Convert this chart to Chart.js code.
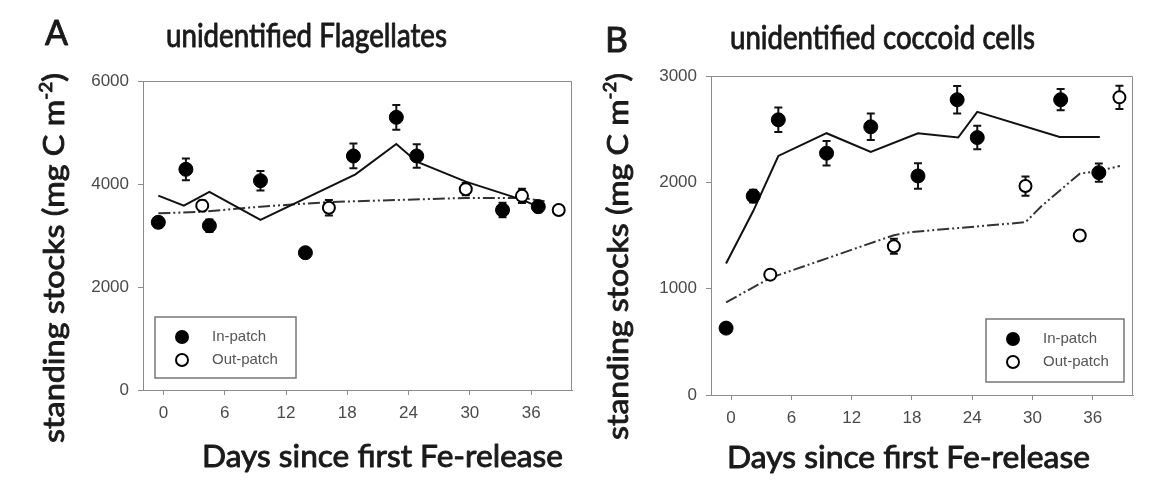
<!DOCTYPE html>
<html>
<head>
<meta charset="utf-8">
<title>Standing stocks</title>
<script src="https://cdn.jsdelivr.net/npm/chart.js@4.4.1/dist/chart.umd.min.js"></script>
<style>
  html, body { margin: 0; padding: 0; background: #fff; }
  #wrap { position: relative; width: 1151px; height: 486px; overflow: hidden; }
  canvas { position: absolute; top: 0; }
  #chartA { left: 0; }
  #chartB { left: 580px; }
</style>
</head>
<body>
<div id="wrap">
  <canvas id="chartA" width="580" height="486"></canvas>
  <canvas id="chartB" width="571" height="486"></canvas>
</div>
<script>
'use strict';

// x axis ticks shared by both panels
const dayTicks = [0, 6, 12, 18, 24, 30, 36];

// A - unidentified flagellates
const flagInDays = [-0.5, 2.2, 4.5, 9.5, 13.9, 18.6, 22.8, 24.8, 33.2, 36.7];
const flagInVals = [3256, 4285, 3190, 4064, 2666, 4544, 5295, 4544, 3495, 3560];
const flagInErr = [100, 210, 120, 190, 80, 240, 240, 230, 140, 110];
const flagOutDays = [3.8, 16.2, 29.6, 35.1, 38.7];
const flagOutVals = [3580, 3540, 3900, 3770, 3495];
const flagOutErr = [100, 150, 120, 140, 80];
const flagInFitDays = [-0.5, 2.0, 4.5, 9.5, 18.8, 22.8, 24.8, 29.6, 35.0, 36.7];
const flagInFitVals = [3773, 3579, 3845, 3301, 4188, 4777, 4434, 4045, 3702, 3560];
const flagOutFitDays = [-0.5, 3.8, 9.5, 16.2, 23.0, 29.6, 35.1, 37.5];
const flagOutFitVals = [3430, 3460, 3560, 3650, 3690, 3730, 3730, 3660];

// B - unidentified coccoid cells
const coccInDays = [-0.5, 2.2, 4.7, 9.5, 13.9, 18.6, 22.5, 24.5, 32.8, 36.6];
const coccInVals = [629, 1871, 2588, 2274, 2522, 2060, 2777, 2421, 2777, 2091];
const coccInErr = [20, 60, 115, 115, 125, 120, 130, 110, 100, 85];
const coccOutDays = [3.9, 16.2, 29.3, 34.7, 38.65];
const coccOutVals = [1132, 1399, 1965, 1500, 2799];
const coccOutErr = [40, 70, 90, 50, 110];
const coccInFitDays = [-0.5, 2.2, 4.7, 9.5, 13.9, 18.6, 22.6, 24.5, 32.7, 36.7];
const coccInFitVals = [1236, 1730, 2248, 2462, 2286, 2462, 2421, 2663, 2427, 2427];
const coccOutFitDays = [-0.5, 3.9, 16.2, 17.8, 29.3, 30.9, 34.7, 36.6, 38.7];
const coccOutFitVals = [871, 1101, 1503, 1531, 1625, 1777, 2082, 2107, 2154];

const legendLabels = ['In-patch', 'Out-patch'];
const yTitleParts = [['standing stocks (mg C m', 29], ['-2', 17, 12], [')', 29]];
const xTitle = 'Days since first Fe-release';

const ink = '#1a1a1a';
const frameColor = '#8c8c8c';
const tickFont = {family: "'Liberation Sans', Arial, sans-serif", size: 17};

let pts = (xs, ys) => xs.map((x, i) => ({x, y: ys[i]}));

// draws a run of text pieces (for the superscript) stretched to a given width
function drawText(ctx, parts, x, y, width, angle) {
  ctx.save();
  ctx.translate(x, y);
  ctx.rotate(angle || 0);
  ctx.fillStyle = ink;
  ctx.strokeStyle = ink;
  ctx.lineWidth = 0.9;
  ctx.lineJoin = 'round';
  ctx.textAlign = 'left';
  ctx.textBaseline = 'alphabetic';
  let font = size => size + 'px Lato';
  let total = 0;
  parts.forEach(p => { ctx.font = font(p[1]); total += ctx.measureText(p[0]).width; });
  ctx.scale(width / total, 1);
  let cx = 0;
  parts.forEach(p => {
    ctx.font = font(p[1]);
    ctx.fillText(p[0], cx, -(p[2] || 0));
    ctx.strokeText(p[0], cx, -(p[2] || 0));
    cx += ctx.measureText(p[0]).width;
  });
  ctx.restore();
}

const errorBars = {
  id: 'errorBars',
  beforeDatasetsDraw(chart) {
    const {ctx, scales: {x, y}} = chart;
    ctx.save();
    ctx.strokeStyle = '#111';
    ctx.lineWidth = 2;
    chart.data.datasets.forEach(ds => {
      if (!ds.errors) return;
      ds.data.forEach((p, i) => {
        let px = x.getPixelForValue(p.x);
        let top = y.getPixelForValue(p.y + ds.errors[i]);
        let bot = y.getPixelForValue(p.y - ds.errors[i]);
        ctx.beginPath();
        ctx.moveTo(px, top); ctx.lineTo(px, bot);
        ctx.moveTo(px - 4, top); ctx.lineTo(px + 4, top);
        ctx.moveTo(px - 4, bot); ctx.lineTo(px + 4, bot);
        ctx.stroke();
      });
    });
    ctx.restore();
  }
};

// frame, legend box and all the panel text
const decorations = {
  id: 'decorations',
  afterDraw(chart, args, o) {
    const {ctx, chartArea: a} = chart;
    ctx.save();
    ctx.strokeStyle = frameColor;
    ctx.lineWidth = 1;
    ctx.beginPath();
    ctx.moveTo(a.left, a.top + 0.5); ctx.lineTo(a.right - 0.5, a.top + 0.5); ctx.lineTo(a.right - 0.5, a.bottom);
    ctx.stroke();

    // legend
    let [lx, ly, lw, lh] = o.legend;
    ctx.strokeStyle = '#777';
    ctx.lineWidth = 1.5;
    ctx.strokeRect(lx, ly, lw, lh);
    let mx = lx + 27;
    let rows = [ly + 20, ly + 43];
    ctx.fillStyle = '#000';
    ctx.beginPath(); ctx.arc(mx, rows[0], 7, 0, Math.PI * 2); ctx.fill();
    ctx.fillStyle = '#fff';
    ctx.strokeStyle = '#000';
    ctx.lineWidth = 2;
    ctx.beginPath(); ctx.arc(mx, rows[1], 6, 0, Math.PI * 2); ctx.fill(); ctx.stroke();
    ctx.fillStyle = '#555';
    ctx.font = "15px 'Liberation Sans', Arial, sans-serif";
    ctx.textBaseline = 'middle';
    legendLabels.forEach((t, i) => ctx.fillText(t, lx + 57, rows[i]));
    ctx.restore();

    drawText(ctx, [[o.letter, 34]], o.letterPos[0], o.letterPos[1], o.letterPos[2]);
    drawText(ctx, [[o.title, 32]], o.titlePos[0], o.titlePos[1], o.titlePos[2]);
    drawText(ctx, [[xTitle, 31]], o.xTitlePos[0], o.xTitlePos[1], o.xTitlePos[2]);
    drawText(ctx, yTitleParts, o.yTitlePos[0], o.yTitlePos[1], o.yTitlePos[2], -Math.PI / 2);
  }
};

let makePanel = p => {
  let datasets = [
    {
      label: legendLabels[0], data: pts(p.inDays, p.inVals), errors: p.inErr,
      pointRadius: 7, pointBackgroundColor: '#000', pointBorderColor: '#000', pointBorderWidth: 1,
      showLine: false
    },
    {
      label: legendLabels[1], data: pts(p.outDays, p.outVals), errors: p.outErr,
      pointRadius: 6, pointBackgroundColor: '#fff', pointBorderColor: '#000', pointBorderWidth: 2,
      showLine: false
    },
    {
      data: pts(p.inFitDays, p.inFitVals), showLine: true, pointRadius: 0,
      borderColor: '#111', borderWidth: 2, tension: 0
    },
    {
      data: pts(p.outFitDays, p.outFitVals), showLine: true, pointRadius: 0,
      borderColor: '#333', borderWidth: 2, borderDash: [12, 3, 2, 3, 2, 3], tension: 0
    }
  ];

  return new Chart(document.getElementById(p.canvas), {
    type: 'scatter',
    data: {datasets},
    plugins: [errorBars, decorations],
    options: {
      responsive: false,
      animation: false,
      events: [],
      layout: {padding: p.pad},
      plugins: {
        legend: {display: false},
        tooltip: {enabled: false},
        decorations: p.text
      },
      scales: {
        x: {
          type: 'linear', min: -2, max: 40,
          afterBuildTicks: s => { s.ticks = dayTicks.map(v => ({value: v})); },
          afterFit: s => { s.height = p.xHeight; },
          grid: {drawOnChartArea: false, drawTicks: true, tickLength: 5, color: frameColor},
          border: {display: true, color: frameColor, width: 1},
          ticks: {font: tickFont, color: '#4a4a4a', padding: 8, maxRotation: 0, callback: v => String(v)}
        },
        y: {
          type: 'linear', min: 0, max: p.yMax,
          afterFit: s => { s.width = p.yWidth; },
          grid: {drawOnChartArea: false, drawTicks: true, tickLength: 5, color: frameColor},
          border: {display: true, color: frameColor, width: 1},
          ticks: {font: tickFont, color: '#4a4a4a', padding: 9, stepSize: p.yStep, callback: v => String(v)}
        }
      }
    }
  });
};

makePanel({
  canvas: 'chartA', yMax: 6000, yStep: 2000,
  inDays: flagInDays, inVals: flagInVals, inErr: flagInErr,
  outDays: flagOutDays, outVals: flagOutVals, outErr: flagOutErr,
  inFitDays: flagInFitDays, inFitVals: flagInFitVals,
  outFitDays: flagOutFitDays, outFitVals: flagOutFitVals,
  pad: {left: 0, top: 81, right: 3, bottom: 0}, yWidth: 143, xHeight: 96,
  text: {
    letter: 'A', letterPos: [45, 45, 23],
    title: 'unidentified Flagellates', titlePos: [166, 47, 281],
    xTitlePos: [202, 467, 361],
    yTitlePos: [64, 443, 370],
    legend: [155, 317, 141, 61]
  }
});

makePanel({
  canvas: 'chartB', yMax: 3000, yStep: 1000,
  inDays: coccInDays, inVals: coccInVals, inErr: coccInErr,
  outDays: coccOutDays, outVals: coccOutVals, outErr: coccOutErr,
  inFitDays: coccInFitDays, inFitVals: coccInFitVals,
  outFitDays: coccOutFitDays, outFitVals: coccOutFitVals,
  pad: {left: 0, top: 76, right: 18, bottom: 0}, yWidth: 131, xHeight: 91,
  text: {
    letter: 'B', letterPos: [25, 52, 23],
    title: 'unidentified coccoid cells', titlePos: [150, 49, 305],
    xTitlePos: [147, 468, 363],
    yTitlePos: [48, 440, 367],
    legend: [406, 319, 138, 63]
  }
});
</script>
</body>
</html>
